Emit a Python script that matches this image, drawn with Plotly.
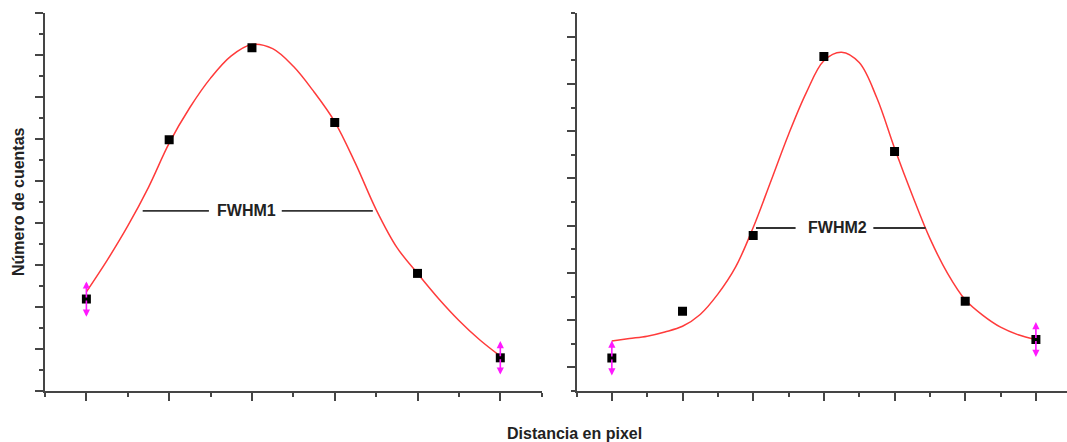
import plotly.graph_objects as go

# ---------------- data ----------------
# Left panel
x1 = [1, 2, 3, 4, 5, 6]
y1 = [2.19, 5.98, 8.17, 6.39, 2.80, 0.79]
err1 = [0.42, 0, 0, 0, 0, 0.40]
fit1_x = [1.0, 1.25, 1.5, 1.75, 2.0, 2.25, 2.5, 2.75, 3.0, 3.25, 3.5,
          3.75, 4.0, 4.25, 4.5, 4.75, 5.0, 5.25, 5.5, 5.75, 6.0]
fit1_y = [2.36, 3.11, 3.93, 4.85, 5.90, 6.75, 7.45, 7.98, 8.25, 8.15, 7.73,
          7.12, 6.41, 5.42, 4.32, 3.42, 2.80, 2.21, 1.68, 1.22, 0.83]
fwhm1_y = 4.29
fwhm1_segments = [[1.68, 2.48], [3.36, 4.46]]
fwhm1_text_x = 2.93
fwhm1_label = "FWHM1"

# Right panel
x2 = [1, 2, 3, 4, 5, 6, 7]
y2 = [0.20, 1.19, 2.79, 6.58, 4.57, 1.40, 0.59]
err2 = [0.37, 0, 0, 0, 0, 0, 0.37]
fit2_x = [1.0, 1.25, 1.5, 1.75, 2.0, 2.25, 2.5, 2.75, 3.0, 3.25, 3.5, 3.75,
          4.0, 4.25, 4.5, 4.75, 5.0, 5.25, 5.5, 5.75, 6.0, 6.25, 6.5, 6.75, 7.0]
fit2_y = [0.56, 0.61, 0.66, 0.75, 0.87, 1.12, 1.55, 2.12, 2.96, 3.94, 4.93, 5.81,
          6.49, 6.67, 6.45, 5.70, 4.64, 3.65, 2.73, 1.99, 1.43, 1.10, 0.85, 0.69, 0.59]
fwhm2_y = 2.95
fwhm2_segments = [[3.04, 3.60], [4.70, 5.44]]
fwhm2_text_x = 4.19
fwhm2_label = "FWHM2"

y_title = "Número de cuentas"
x_title = "Distancia en pixel"

# ---------------- styling ----------------
W, H = 1067, 442
AX = "#454545"
FIT = "#ff3b3b"
ERR = "#ff19ff"
FONT = "Liberation Sans, Arial, sans-serif"
TXT = "#222222"

fig = go.Figure()

for xs, ys, fx, fy, xa, ya in [(x1, y1, fit1_x, fit1_y, "x", "y"),
                               (x2, y2, fit2_x, fit2_y, "x2", "y2")]:
    fig.add_trace(go.Scatter(x=fx, y=fy, mode="lines",
                             line=dict(color=FIT, width=1.5, shape="spline", smoothing=1.0),
                             xaxis=xa, yaxis=ya, showlegend=False, hoverinfo="skip"))
    fig.add_trace(go.Scatter(x=xs, y=ys, mode="markers",
                             marker=dict(symbol="square", size=9, color="black"),
                             xaxis=xa, yaxis=ya, showlegend=False))

annotations = []
shapes = []

# error arrows (magenta, double-headed)
for xs, ys, es, xa, ya in [(x1, y1, err1, "x", "y"), (x2, y2, err2, "x2", "y2")]:
    for xv, yv, ev in zip(xs, ys, es):
        if ev:
            for sgn in (1, -1):
                annotations.append(dict(
                    x=xv, y=yv + sgn * ev, ax=xv, ay=yv, xref=xa, yref=ya,
                    axref=xa, ayref=ya, text="", showarrow=True,
                    arrowhead=2, arrowsize=0.9, arrowwidth=1.6, arrowcolor=ERR))

# FWHM markers
for segs, yv, tx, label, xa, ya in [(fwhm1_segments, fwhm1_y, fwhm1_text_x, fwhm1_label, "x", "y"),
                                     (fwhm2_segments, fwhm2_y, fwhm2_text_x, fwhm2_label, "x2", "y2")]:
    for a, b in segs:
        shapes.append(dict(type="line", xref=xa, yref=ya, x0=a, x1=b, y0=yv, y1=yv,
                           line=dict(color="#333333", width=1.8)))
    annotations.append(dict(x=tx, y=yv, xref=xa, yref=ya, text=f"<b>{label}</b>",
                            showarrow=False, xanchor="center", yanchor="middle",
                            font=dict(family=FONT, size=16, color=TXT)))

# axis titles
annotations.append(dict(x=18 / W, y=0.5, xref="paper", yref="paper",
                        text=f"<b>{y_title}</b>", textangle=-90, showarrow=False,
                        xanchor="center", yanchor="middle",
                        font=dict(family=FONT, size=16, color=TXT)))
annotations.append(dict(x=574 / W, y=(391 - 433) / 378, xref="paper", yref="paper",
                        text=f"<b>{x_title}</b>", showarrow=False,
                        xanchor="center", yanchor="middle",
                        font=dict(family=FONT, size=16, color=TXT)))


def axis(domain, rng, tick0, minor0, anchor):
    return dict(domain=domain, range=rng, anchor=anchor, showline=True,
                linecolor=AX, linewidth=1.6, ticks="outside", ticklen=8,
                tickwidth=1.5, tickcolor=AX, tick0=tick0, dtick=1,
                showticklabels=False, showgrid=False, zeroline=False,
                minor=dict(ticks="outside", ticklen=4, tickwidth=1.5, tickcolor=AX,
                           tick0=minor0, dtick=0.5, showgrid=False),
                fixedrange=True)


fig.update_layout(
    width=W, height=H,
    margin=dict(l=0, r=0, t=13, b=51),
    paper_bgcolor="white", plot_bgcolor="white",
    xaxis=axis([45 / W, 541.7 / W], [0.5, 6.5], 1, 0.5, "y"),
    yaxis=axis([0, 1], [0, 9], 0, 0.5, "x"),
    xaxis2=axis([576.5 / W, 1.0], [0.5, 7.44], 1, 0.5, "y2"),
    yaxis2=axis([0, 1], [-0.5, 7.5], 0, 0.5, "x2"),
    annotations=annotations,
    shapes=shapes,
    showlegend=False,
)

fig.write_html("out.html", config={"displayModeBar": False},
               post_script="document.body.style.margin='0px';document.body.style.padding='0px';")
